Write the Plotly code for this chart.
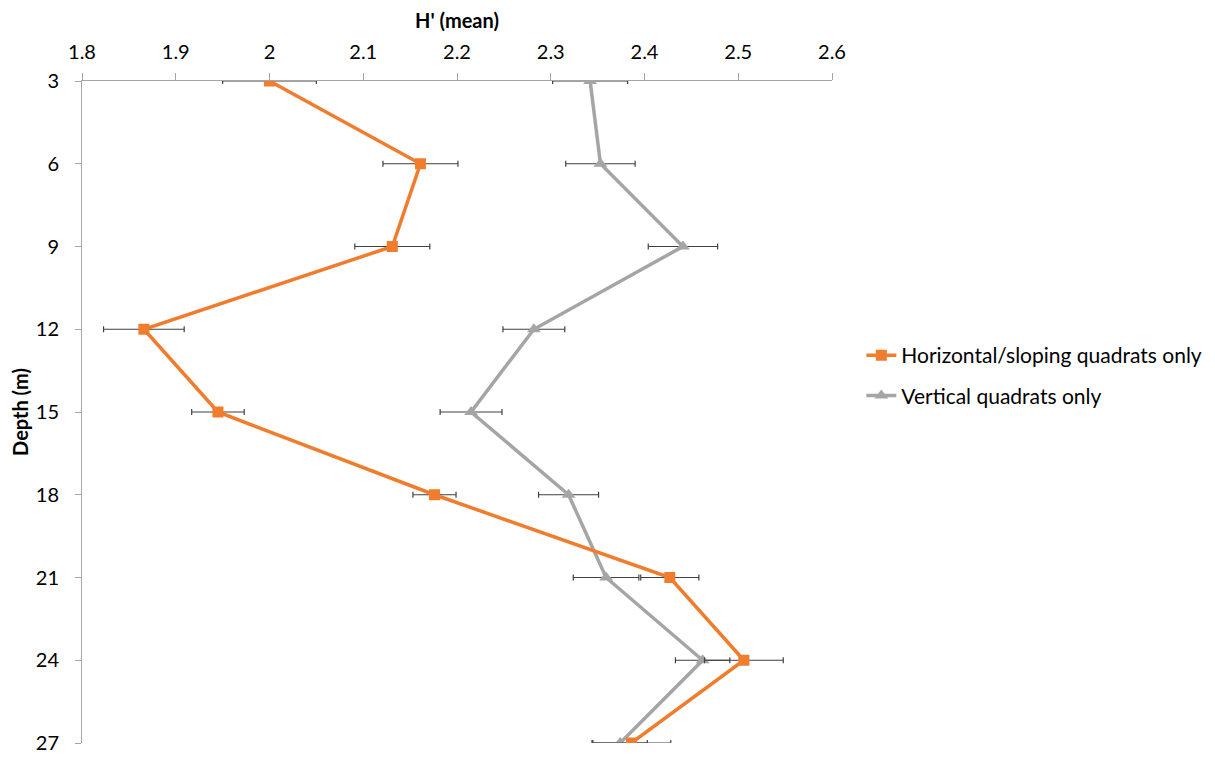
import plotly.graph_objects as go

depth = [3, 6, 9, 12, 15, 18, 21, 24, 27]
horiz_mean = [2.000, 2.161, 2.131, 1.866, 1.945, 2.176, 2.427, 2.506, 2.386]
horiz_err = [0.050, 0.040, 0.040, 0.043, 0.028, 0.023, 0.031, 0.042, 0.042]
vert_mean = [2.342, 2.353, 2.441, 2.282, 2.215, 2.319, 2.359, 2.462, 2.374]
vert_err = [0.040, 0.037, 0.037, 0.033, 0.033, 0.032, 0.035, 0.029, 0.029]
x_ticks = [1.8, 1.9, 2.0, 2.1, 2.2, 2.3, 2.4, 2.5, 2.6]
x_labels = ["1.8", "1.9", "2", "2.1", "2.2", "2.3", "2.4", "2.5", "2.6"]

FONT = "Lato, 'Open Sans', sans-serif"
ERR_COLOR = "#404040"

fig = go.Figure()
fig.add_trace(go.Scatter(
    x=vert_mean, y=depth, mode="lines+markers", name="Vertical quadrats only",
    line=dict(color="#A5A5A5", width=3.5),
    marker=dict(symbol="triangle-up", size=12, color="#A5A5A5"),
    error_x=dict(type="data", array=vert_err, color=ERR_COLOR, thickness=1.2, width=3),
    legendgroup="b", legendrank=2,
))
fig.add_trace(go.Scatter(
    x=horiz_mean, y=depth, mode="lines+markers", name="Horizontal/sloping quadrats only",
    line=dict(color="#F07C2D", width=3.5),
    marker=dict(symbol="square", size=11, color="#F07C2D"),
    error_x=dict(type="data", array=horiz_err, color=ERR_COLOR, thickness=1.2, width=3),
    legendgroup="a", legendrank=1,
))

# page body has an 8px margin, so the figure is sized/offset to compensate
fig.update_layout(
    width=1207, height=750,
    margin=dict(l=74, r=383, t=73, b=15, autoexpand=False),
    paper_bgcolor="white", plot_bgcolor="white",
    font=dict(family=FONT, size=20, color="#000000"),
    showlegend=True,
    legend=dict(xref="container", x=0.707, xanchor="left",
                y=0.555, yanchor="middle",
                font=dict(size=21), traceorder="grouped", tracegroupgap=10,
                itemwidth=30, bgcolor="rgba(0,0,0,0)"),
)
fig.update_xaxes(
    side="top", range=[1.8, 2.6], tickvals=x_ticks, ticktext=x_labels,
    showgrid=False, zeroline=False, showline=True, linecolor="#A6A6A6", linewidth=1,
    ticks="outside", ticklen=7, tickcolor="#A6A6A6", automargin=False,
    ticklabelstandoff=6,
    title=dict(text="<b>H' (mean)</b>", font=dict(size=20), standoff=6),
)
fig.update_yaxes(
    range=[27, 3], tickvals=depth, showgrid=False, zeroline=False,
    showline=True, linecolor="#A6A6A6", linewidth=1,
    ticks="outside", ticklen=6, tickcolor="#A6A6A6", automargin=False,
    ticklabelstandoff=12,
    title=dict(text="<b>Depth (m)</b>", font=dict(size=20), standoff=4),
)

fig.write_html("out.html")
